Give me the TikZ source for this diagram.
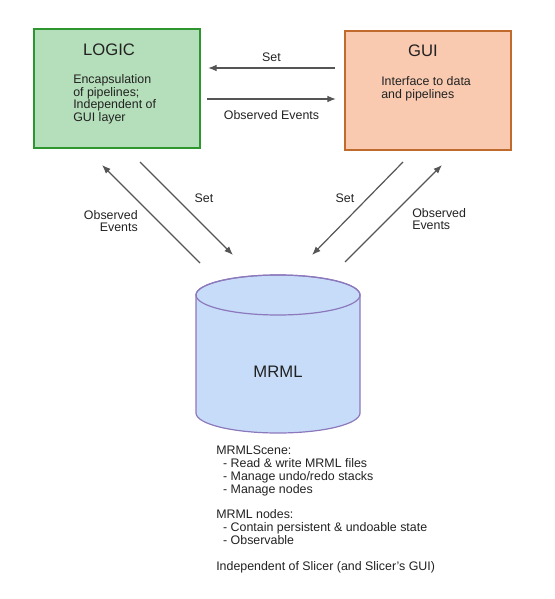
\documentclass[tikz,border=0pt]{standalone}
\usepackage{fontspec}
\setmainfont{Liberation Sans}
\usetikzlibrary{arrows.meta}
\definecolor{logicfill}{HTML}{B5DFBA}
\definecolor{logicline}{HTML}{2E962E}
\definecolor{guifill}{HTML}{F9CAB0}
\definecolor{guiline}{HTML}{C06A2E}
\definecolor{mrmlfill}{HTML}{C6DCF8}
\definecolor{mrmlline}{HTML}{8C78BC}
\definecolor{arrowgray}{HTML}{555555}
\definecolor{textgray}{HTML}{222222}

\begin{document}
\begin{tikzpicture}[x=0.75pt,y=-0.75pt,
    box/.style={draw,line width=1.1pt,minimum width=124.5pt,minimum height=89.25pt,inner sep=0pt},
    title/.style={font=\fontsize{12.5}{14}\selectfont,anchor=base,inner sep=0pt,text=textgray},
    txt/.style={font=\fontsize{9.3}{9.6}\selectfont,align=left,inner sep=0pt,text=textgray},
    arr/.style={draw=arrowgray,line width=0.9pt,-{Latex[length=6.5pt,width=5pt]}}]

    \useasboundingbox (0,0) rectangle (554,599);

    % the two layers on top
    \node[box,draw=logicline,fill=logicfill] (logic) at (117,88.5) {};
    \node[title] (logictitle) at (109,56) {LOGIC};
    \node[txt,anchor=north west] (logictext) at (73,74) {Encapsulation\\of pipelines;\\Independent of\\GUI layer};

    \node[box,draw=guiline,fill=guifill] (gui) at (428,90.5) {};
    \node[title] (guititle) at (423,57) {GUI};
    \node[txt,anchor=north west] (guitext) at (381,76) {Interface to data\\and pipelines};

    % the scene
    \filldraw[fill=mrmlfill,draw=mrmlline,line width=0.9pt] (196,295) -- (196,413)
        arc[start angle=180,end angle=0,x radius=82,y radius=20] -- (360,295)
        arc[start angle=0,end angle=-180,x radius=82,y radius=20] -- cycle;
    \draw[draw=mrmlline,line width=0.9pt] (278,295) ellipse[x radius=82,y radius=20];
    \node[title] (mrml) at (278,377) {MRML};

    \node[txt,anchor=north west] (notes) at (216,446) {MRMLScene:\\
        \ \ - Read \& write MRML files\\
        \ \ - Manage undo/redo stacks\\
        \ \ - Manage nodes\\[9.6pt]
        MRML nodes:\\
        \ \ - Contain persistent \& undoable state\\
        \ \ - Observable\\[9.6pt]
        Independent of Slicer (and Slicer's GUI)};

    % connectors
    \coordinate (setfrom) at (335,68);
    \coordinate (setto) at (208,68);
    \coordinate (obsfrom) at (207,99);
    \coordinate (obsto) at (336,99);
    \draw[arr] (setfrom) -- (setto) node[txt,midway,above=4pt] (setlabel) {Set};
    \draw[arr] (obsfrom) -- (obsto) node[txt,midway,below=8pt] (obslabel) {Observed Events};

    \coordinate (lobsfrom) at (200,263);
    \coordinate (lobsto) at (102,165);
    \coordinate (lsetfrom) at (140,162);
    \coordinate (lsetto) at (233,255);
    \coordinate (rsetfrom) at (403,162);
    \coordinate (rsetto) at (312,255);
    \coordinate (robsfrom) at (345,262);
    \coordinate (robsto) at (442,165);
    \draw[arr] (lobsfrom) -- (lobsto);
    \draw[arr] (lsetfrom) -- (lsetto);
    \draw[arr] (rsetfrom) -- (rsetto);
    \draw[arr] (robsfrom) -- (robsto);

    \node[txt] (lsetlabel) at (204,198) {Set};
    \node[txt,align=right,anchor=east] (lobslabel) at (138,221) {Observed\\Events};
    \node[txt] (rsetlabel) at (345,198) {Set};
    \node[txt,anchor=west] (robslabel) at (412,219) {Observed\\Events};
\end{tikzpicture}
\end{document}
